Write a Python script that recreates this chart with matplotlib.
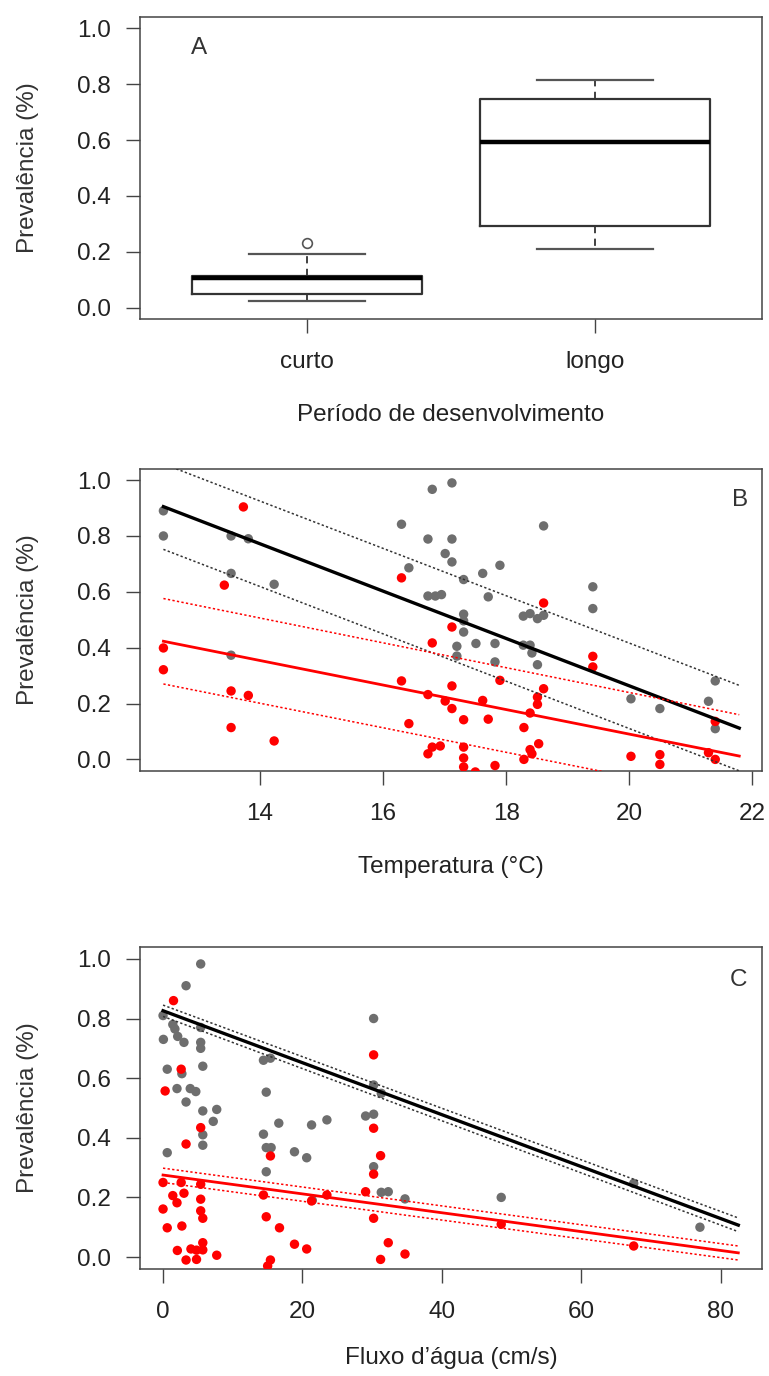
import matplotlib.pyplot as plt
import numpy as np

plt.rcParams['font.family'] = ['Liberation Sans', 'DejaVu Sans']

# ---------------- A: periodo de desenvolvimento (boxplot)
grupos = ["curto", "longo"]
lim_inf = [0.025, 0.21]
q1 = [0.05, 0.293]
mediana = [0.107, 0.593]
q3 = [0.114, 0.746]
lim_sup = [0.193, 0.814]
outliers = [[0.232], []]

# ---------------- B: temperatura
temp_cinza = [12.43, 12.43, 13.53, 13.81, 13.53, 14.23, 13.53, 16.30, 16.80, 17.12,
              16.73, 17.12, 17.01, 17.12, 16.42, 16.73, 16.85, 16.95, 17.20, 17.20,
              18.61, 17.90, 17.62, 17.31, 17.71, 19.41, 19.41, 18.28, 18.39, 18.51,
              18.61, 17.31, 17.31, 17.31, 17.51, 17.82, 18.28, 18.39, 18.42, 17.82,
              18.51, 20.03, 20.50, 21.40, 21.29, 21.40]
prev_cinza_b = [0.89, 0.80, 0.80, 0.79, 0.666, 0.627, 0.373, 0.842, 0.967, 0.99,
                0.789, 0.789, 0.737, 0.707, 0.686, 0.585, 0.585, 0.59, 0.405, 0.37,
                0.836, 0.695, 0.666, 0.644, 0.582, 0.618, 0.54, 0.513, 0.522, 0.504,
                0.516, 0.52, 0.496, 0.456, 0.415, 0.415, 0.409, 0.409, 0.381, 0.349,
                0.339, 0.217, 0.182, 0.281, 0.208, 0.11]
temp_verm = [13.73, 13.42, 12.43, 12.43, 13.53, 13.81, 13.53, 14.23, 16.30, 16.30,
             17.12, 16.80, 17.12, 16.73, 17.01, 17.12, 16.42, 16.80, 16.93, 16.73,
             18.61, 19.41, 19.41, 17.90, 17.62, 18.61, 18.51, 18.51, 18.39, 17.31,
             17.71, 18.29, 18.53, 18.39, 18.42, 18.29, 17.31, 17.31, 17.31, 17.82,
             20.03, 20.50, 20.50, 21.29, 21.40, 21.40, 17.50]
prev_verm_b = [0.904, 0.624, 0.399, 0.321, 0.245, 0.229, 0.114, 0.066, 0.65, 0.281,
               0.474, 0.417, 0.263, 0.232, 0.209, 0.182, 0.128, 0.044, 0.048, 0.02,
               0.56, 0.369, 0.331, 0.283, 0.211, 0.253, 0.223, 0.197, 0.166, 0.142,
               0.144, 0.114, 0.056, 0.035, 0.02, 0.0, 0.044, 0.005, -0.027, -0.022,
               0.011, 0.017, -0.018, 0.024, 0.136, 0.0, -0.045]
temp_reta = [12.43, 21.79]
reta_cinza_b = [0.905, 0.112]
sup_cinza_b = [1.058, 0.265]
inf_cinza_b = [0.752, -0.041]
reta_verm_b = [0.423, 0.012]
sup_verm_b = [0.576, 0.160]
inf_verm_b = [0.270, -0.141]

# ---------------- C: fluxo d'agua
fluxo_cinza = [0.0, 1.4, 1.7, 0.05, 2.1, 3.0, 5.4, 5.4, 5.4, 5.4,
               3.3, 0.6, 2.7, 5.7, 2.0, 3.9, 4.7, 3.3, 5.7, 7.7,
               7.2, 5.7, 5.7, 0.6, 14.4, 15.4, 14.8, 14.4, 14.8, 15.5,
               14.8, 16.6, 18.85, 20.6, 21.3, 23.5, 21.4, 30.2, 30.2, 31.3,
               29.05, 30.2, 30.2, 31.3, 32.3, 34.7, 48.5, 67.5, 77.0]
prev_cinza_c = [0.81, 0.78, 0.765, 0.73, 0.74, 0.72, 0.77, 0.72, 0.70, 0.983,
                0.91, 0.63, 0.615, 0.64, 0.565, 0.565, 0.555, 0.52, 0.49, 0.495,
                0.455, 0.41, 0.375, 0.35, 0.66, 0.667, 0.553, 0.412, 0.367, 0.367,
                0.286, 0.449, 0.353, 0.333, 0.443, 0.46, 0.19, 0.80, 0.577, 0.549,
                0.473, 0.479, 0.303, 0.217, 0.219, 0.195, 0.20, 0.247, 0.10]
fluxo_verm = [1.5, 2.6, 0.3, 5.4, 3.3, 15.4, 0.0, 2.6, 5.4, 3.0,
              1.4, 2.0, 5.4, 0.0, 5.4, 5.7, 0.6, 2.7, 14.4, 14.8,
              2.05, 4.0, 4.8, 5.7, 5.7, 7.7, 3.3, 4.8, 15.4, 15.0,
              30.2, 30.2, 31.2, 30.2, 29.05, 23.5, 21.3, 16.7, 30.2, 18.85,
              20.6, 32.3, 34.7, 31.2, 48.5, 67.5]
prev_verm_c = [0.86, 0.63, 0.557, 0.434, 0.379, 0.339, 0.25, 0.25, 0.244, 0.214,
               0.206, 0.182, 0.194, 0.161, 0.155, 0.13, 0.098, 0.104, 0.208, 0.135,
               0.022, 0.027, 0.023, 0.024, 0.048, 0.006, -0.01, -0.008, -0.01, -0.03,
               0.678, 0.432, 0.34, 0.278, 0.219, 0.208, 0.188, 0.098, 0.13, 0.043,
               0.027, 0.048, 0.01, -0.008, 0.11, 0.037]
fluxo_reta = [0.0, 82.5]
reta_cinza_c = [0.826, 0.107]
sup_cinza_c = [0.845, 0.131]
inf_cinza_c = [0.807, 0.085]
reta_verm_c = [0.275, 0.014]
sup_verm_c = [0.298, 0.037]
inf_verm_c = [0.250, -0.010]

yticks = [0.0, 0.2, 0.4, 0.6, 0.8, 1.0]
fs = 17.5
cinza = '#6e6e6e'
verm = '#ff0000'
moldura = '#444444'


def estilo(ax, letra, lx):
    for s in ax.spines.values():
        s.set_color(moldura)
        s.set_linewidth(1.1)
    ax.set_ylim(-0.04, 1.04)
    ax.set_yticks(yticks)
    ax.set_yticklabels([f"{v:.1f}" for v in yticks])
    ax.tick_params(axis='both', length=10, width=1.0, color=moldura,
                   labelsize=fs, labelcolor='#222222')
    ax.tick_params(axis='y', pad=11)
    ax.tick_params(axis='x', pad=13)
    ax.set_ylabel("Prevalência (%)", fontsize=fs, color='#333333')
    ax.yaxis.label.set_va('center')
    ax.yaxis.set_label_coords(-0.18, 0.5)
    ax.xaxis.label.set_va('center')
    ax.text(lx, 0.898, letra, transform=ax.transAxes, fontsize=fs,
            ha='center', va='center', color='#333333')


def painel(ax, xc, yc, xv, yv, xr, rc, sc, ic, rv, sv, iv):
    pont = (0, (1.5, 1.5))
    ax.scatter(xc, yc, s=46, color=cinza, edgecolors='none', zorder=3)
    ax.scatter(xv, yv, s=46, color=verm, edgecolors='none', zorder=3)
    ax.plot(xr, rc, color='black', lw=2.4, zorder=4)
    ax.plot(xr, sc, color='#333333', lw=1.1, ls=pont, zorder=4)
    ax.plot(xr, ic, color='#333333', lw=1.1, ls=pont, zorder=4)
    ax.plot(xr, rv, color=verm, lw=2.0, zorder=4)
    ax.plot(xr, sv, color=verm, lw=1.1, ls=pont, zorder=4)
    ax.plot(xr, iv, color=verm, lw=1.1, ls=pont, zorder=4)


fig = plt.figure(figsize=(7.69, 13.76), dpi=100)

# A
axA = fig.add_axes([0.1821, 0.7682, 0.8088, 0.2194])
stats = []
for i in range(len(grupos)):
    stats.append(dict(whislo=lim_inf[i], q1=q1[i], med=mediana[i], q3=q3[i],
                      whishi=lim_sup[i], fliers=outliers[i]))
axA.bxp(stats, positions=[1, 2], widths=0.8, showfliers=True,
        boxprops=dict(color='#333333', lw=1.6),
        medianprops=dict(color='black', lw=3.2),
        whiskerprops=dict(color='#333333', lw=1.3, ls=(0, (4, 3))),
        capprops=dict(color='#555555', lw=1.6),
        flierprops=dict(marker='o', markersize=7, markerfacecolor='white',
                        markeredgecolor='#555555', markeredgewidth=1.2))
axA.set_xlim(0.42, 2.58)
axA.set_xticks([1, 2])
axA.set_xticklabels(grupos)
estilo(axA, "A", 0.095)
axA.set_xlabel("Período de desenvolvimento", fontsize=fs, color='#222222')
axA.xaxis.set_label_coords(0.5, -0.318)

# B
axB = fig.add_axes([0.1821, 0.4400, 0.8088, 0.2192])
painel(axB, temp_cinza, prev_cinza_b, temp_verm, prev_verm_b, temp_reta,
       reta_cinza_b, sup_cinza_b, inf_cinza_b, reta_verm_b, sup_verm_b, inf_verm_b)
axB.set_xlim(12.05, 22.16)
axB.set_xticks([14, 16, 18, 20, 22])
estilo(axB, "B", 0.965)
axB.set_xlabel("Temperatura (°C)", fontsize=fs, color='#222222')
axB.xaxis.set_label_coords(0.5, -0.32)

# C
axC = fig.add_axes([0.1821, 0.0778, 0.8088, 0.2340])
painel(axC, fluxo_cinza, prev_cinza_c, fluxo_verm, prev_verm_c, fluxo_reta,
       reta_cinza_c, sup_cinza_c, inf_cinza_c, reta_verm_c, sup_verm_c, inf_verm_c)
axC.set_xlim(-3.3, 85.9)
axC.set_xticks([0, 20, 40, 60, 80])
estilo(axC, "C", 0.963)
axC.set_xlabel("Fluxo d’água (cm/s)", fontsize=fs, color='#222222')
axC.xaxis.set_label_coords(0.5, -0.277)

fig.savefig("out.png", dpi=100)
